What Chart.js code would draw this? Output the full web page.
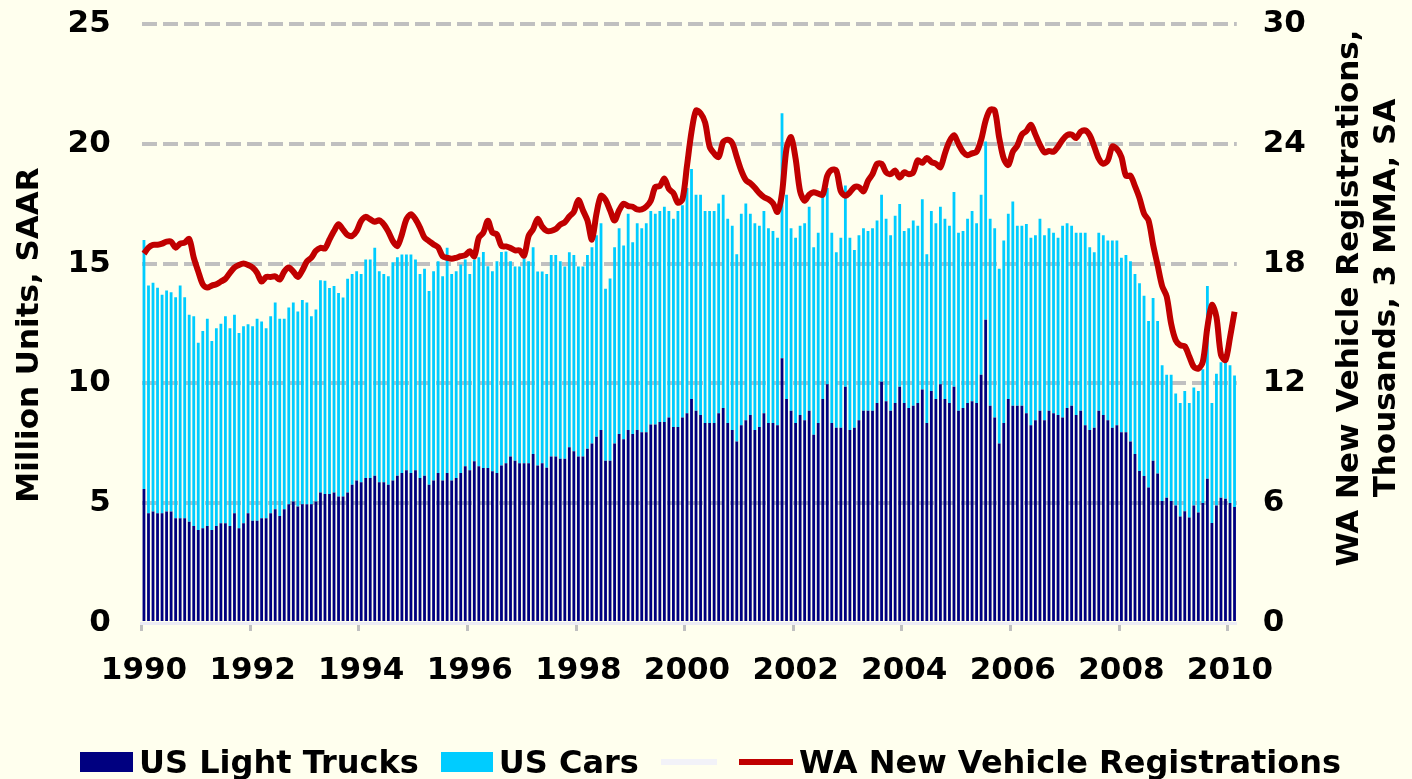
<!DOCTYPE html>
<html>
<head>
<meta charset="utf-8">
<script src="https://cdn.jsdelivr.net/npm/chart.js@4.4.0/dist/chart.umd.min.js"></script>
<style>
  html, body { margin: 0; padding: 0; background: #FFFFEE; }
  #wrap { position: relative; width: 1412px; height: 779px; }
  #legend {
    position: absolute; left: 80px; top: 742px; height: 40px;
    display: flex; align-items: center;
    font: bold 32px "DejaVu Sans", sans-serif; color: #000; white-space: nowrap;
  }
  #legend .item { display: flex; align-items: center; margin-right: 22px; }
  #legend .sw { display: inline-block; margin-right: 6px; }
</style>
</head>
<body>
<div id="wrap">
  <canvas id="chart"></canvas>
  <div id="legend"></div>
</div>
<script>
// monthly data, Jan 1990 .. Feb 2010 (one row per year)
const startYear = 1990;

const trucks = [
  5.59,4.58,4.65,4.58,4.58,4.65,4.65,4.37,4.37,4.37,4.23,4.05,
  3.88,3.95,4.05,3.88,4.05,4.16,4.16,4.05,4.58,3.95,4.16,4.58,
  4.27,4.27,4.37,4.37,4.58,4.75,4.47,4.75,4.96,5.07,4.86,4.96,
  4.96,4.96,5.07,5.45,5.38,5.38,5.45,5.28,5.28,5.45,5.77,5.95,
  5.87,6.05,6.05,6.15,5.87,5.87,5.77,5.95,6.15,6.26,6.37,6.26,
  6.37,6.05,6.15,5.77,5.95,6.26,5.95,6.26,5.95,6.05,6.26,6.54,
  6.37,6.75,6.54,6.47,6.47,6.33,6.26,6.57,6.67,6.95,6.77,6.67,
  6.67,6.67,7.05,6.57,6.67,6.48,6.95,6.95,6.85,6.85,7.34,7.17,
  6.95,6.95,7.27,7.49,7.77,8.06,6.77,6.77,7.49,7.89,7.67,8.06,
  7.89,8.06,7.96,7.96,8.28,8.28,8.39,8.39,8.58,8.18,8.18,8.58,
  8.75,9.35,8.86,8.68,8.35,8.35,8.35,8.75,8.97,8.35,8.06,7.57,
  8.25,8.46,8.68,8.06,8.18,8.75,8.35,8.35,8.25,11.05,9.35,8.86,
  8.35,8.68,8.46,8.86,7.86,8.35,9.35,9.96,8.35,8.15,8.15,9.86,
  8.06,8.15,8.46,8.86,8.86,8.86,9.18,10.07,9.25,8.86,9.18,9.86,
  9.18,8.97,9.07,9.18,9.75,8.35,9.68,9.35,9.96,9.35,9.18,9.86,
  8.86,8.97,9.18,9.25,9.18,10.36,12.66,9.07,8.58,7.49,8.35,9.35,
  9.07,9.07,9.07,8.75,8.25,8.46,8.86,8.46,8.86,8.75,8.68,8.58,
  8.97,9.07,8.68,8.86,8.25,8.06,8.15,8.86,8.68,8.46,8.15,8.25,
  7.96,7.96,7.57,7.05,6.34,6.14,5.66,6.77,6.24,5.09,5.23,5.09,
  4.9,4.44,4.66,4.4,4.9,4.61,5.01,6.02,4.17,4.9,5.23,5.19,
  5.01,4.84
];

const cars = [
  10.39,9.51,9.55,9.41,9.12,9.23,9.15,9.23,9.72,9.23,8.64,8.75,
  7.82,8.24,8.65,7.89,8.25,8.33,8.64,8.25,8.29,8.15,8.23,7.89,
  8.12,8.43,8.21,7.93,8.22,8.63,8.23,7.95,8.21,8.31,8.14,8.52,
  8.42,7.84,8.01,8.85,8.9,8.6,8.62,8.49,8.3,8.92,8.8,8.73,
  8.7,9.12,9.12,9.51,8.81,8.7,8.7,9.11,9.12,9.12,9.01,9.12,
  8.8,8.52,8.63,8.09,8.73,8.84,8.52,9.4,8.62,8.63,8.7,8.63,
  8.2,8.42,8.73,9.01,8.42,8.35,8.84,8.91,8.83,8.15,8.11,8.21,
  8.55,8.43,8.63,8.1,8.0,8.09,8.41,8.41,8.25,8.03,8.13,8.19,
  7.93,7.93,8.09,8.19,8.41,8.62,7.18,7.61,8.19,8.59,8.09,9.02,
  8.0,8.62,8.52,8.72,8.92,8.8,8.81,8.98,8.62,8.69,9.02,8.86,
  9.41,9.6,9.01,9.19,8.85,8.85,8.85,8.76,8.9,8.52,8.52,7.82,
  8.83,9.05,8.4,8.62,8.4,8.45,8.13,8.01,7.83,10.23,8.52,7.62,
  7.73,7.9,8.22,8.51,7.82,7.94,8.52,8.2,7.94,7.32,7.93,8.4,
  8.02,7.42,7.72,7.62,7.5,7.62,7.62,7.8,7.62,7.32,7.82,7.63,
  7.18,7.51,7.73,7.4,7.94,7.04,7.52,7.33,7.41,7.52,7.4,8.13,
  7.43,7.39,7.69,7.95,7.5,7.51,7.44,7.8,7.9,7.29,7.61,7.73,
  8.52,7.51,7.51,7.9,7.83,7.72,8.01,7.72,7.62,7.54,7.4,8.0,
  7.71,7.51,7.61,7.43,8.04,7.62,7.32,7.43,7.5,7.5,7.81,7.71,
  7.28,7.4,7.53,7.52,7.84,7.52,6.94,6.79,6.36,5.67,5.13,5.27,
  4.68,4.74,5.02,4.78,4.93,5.07,5.58,8.05,5.01,5.5,5.65,5.69,
  5.75,5.49
];

const waRegistrations = [
  18.5,18.8,18.94,18.94,19.0,19.1,19.1,18.8,19.0,19.05,19.23,18.3,
  17.6,16.96,16.8,16.9,16.96,17.1,17.24,17.54,17.8,17.93,18.0,17.93,
  17.8,17.54,17.1,17.33,17.33,17.36,17.2,17.6,17.8,17.6,17.33,17.66,
  18.1,18.3,18.64,18.79,18.76,19.21,19.63,19.97,19.7,19.43,19.38,19.63,
  20.14,20.34,20.22,20.1,20.17,19.97,19.6,19.13,18.88,19.46,20.22,20.47,
  20.22,19.8,19.3,19.13,18.96,18.82,18.37,18.29,18.24,18.29,18.37,18.42,
  18.62,18.37,19.3,19.55,20.14,19.55,19.46,18.88,18.86,18.78,18.66,18.66,
  18.4,19.38,19.73,20.24,19.85,19.64,19.64,19.73,19.95,20.07,20.36,20.59,
  21.19,20.67,20.16,19.2,20.5,21.4,21.19,20.67,20.16,20.67,21.0,20.88,
  20.85,20.71,20.71,20.85,21.15,21.84,21.88,22.26,21.74,21.53,21.05,21.22,
  22.9,24.6,25.67,25.53,25.07,23.86,23.52,23.34,24.09,24.2,24.03,23.34,
  22.66,22.19,22.02,21.8,21.53,21.33,21.22,21.02,20.59,21.53,23.78,24.33,
  23.26,21.62,21.15,21.45,21.57,21.5,21.45,22.4,22.7,22.66,21.62,21.4,
  21.57,21.83,21.83,21.62,22.14,22.48,23.0,23.0,22.57,22.48,22.66,22.31,
  22.57,22.48,22.57,23.17,23.05,23.29,23.09,23.0,22.83,23.52,24.12,24.43,
  23.99,23.6,23.43,23.52,23.6,24.2,25.16,25.7,25.67,24.29,23.26,22.94,
  23.6,23.91,24.46,24.64,24.95,24.46,23.95,23.57,23.64,23.6,23.86,24.2,
  24.43,24.46,24.29,24.6,24.67,24.43,23.86,23.26,23.0,23.17,23.86,23.74,
  23.34,22.4,22.4,21.88,21.28,20.5,20.16,18.95,17.92,16.88,16.36,14.98,
  14.16,13.91,13.86,13.35,12.83,12.74,13.09,14.81,15.93,15.33,13.43,13.17,
  14.3,15.59
];

const yearTicks = ['1990','1992','1994','1996','1998','2000','2002','2004','2006','2008','2010'];
const leftTitle = 'Million Units, SAAR';
const rightTitle = ['WA New Vehicle Registrations,', 'Thousands, 3 MMA, SA'];

const TRUCK_COLOR = '#000080';
const CAR_COLOR = '#00CCFF';
const WA_COLOR = '#C00000';
const GRID_COLOR = '#C0C0C0';
const NONE = 'rgba(0,0,0,0)';

// month categories
const months = [];
for (let i = 0; i < trucks.length; i++) {
  months.push((startYear + Math.floor(i / 12)) + '-' + String(i % 12 + 1).padStart(2, '0'));
}
function yearLabel(index) {
  const m = months[index];
  if (!m || m.slice(5) !== '01') return '';
  const y = m.slice(0, 4);
  return yearTicks.indexOf(y) >= 0 ? y : '';
}

Chart.defaults.font.family = '"DejaVu Sans", sans-serif';
Chart.defaults.font.size = 31;
Chart.defaults.font.weight = 'bold';
Chart.defaults.color = '#000';

// axis titles drawn so that both read bottom-to-top like the original
const axisTitles = {
  id: 'axisTitles',
  afterDraw(chart) {
    const { ctx, chartArea } = chart;
    ctx.save();
    ctx.font = 'bold 31px "DejaVu Sans", sans-serif';
    ctx.fillStyle = '#000';
    ctx.textAlign = 'center';
    ctx.textBaseline = 'middle';

    ctx.save();
    ctx.translate(30, chartArea.top + 311);
    ctx.rotate(-Math.PI / 2);
    ctx.fillText(leftTitle, 0, 0);
    ctx.restore();

    ctx.translate(chartArea.right + 113, chartArea.top + 274);
    ctx.rotate(-Math.PI / 2);
    rightTitle.forEach(function (t, i) { ctx.fillText(t, 0, i * 37); });
    ctx.restore();
  }
};

new Chart(document.getElementById('chart'), {
  data: {
    labels: months,
    datasets: [
      {
        type: 'line',
        label: 'WA New Vehicle Registrations',
        data: waRegistrations,
        yAxisID: 'y1',
        borderColor: WA_COLOR,
        backgroundColor: WA_COLOR,
        borderWidth: 6,
        pointRadius: 0,
        tension: 0.3,
        order: 0
      },
      {
        type: 'bar',
        label: 'US Light Trucks',
        data: trucks,
        backgroundColor: TRUCK_COLOR,
        barPercentage: 0.62,
        categoryPercentage: 1,
        order: 1
      },
      {
        type: 'bar',
        label: 'US Cars',
        data: cars,
        backgroundColor: CAR_COLOR,
        barPercentage: 0.62,
        categoryPercentage: 1,
        order: 1
      }
    ]
  },
  options: {
    animation: false,
    responsive: true,
    maintainAspectRatio: false,
    layout: { padding: { left: 0, top: 24, right: 0, bottom: 0 } },
    scales: {
      x: {
        stacked: true,
        grid: {
          offset: true,
          drawOnChartArea: false,
          drawTicks: true,
          tickLength: 8,
          tickWidth: 3,
          tickColor: function (c) { return yearLabel(c.index) ? GRID_COLOR : NONE; }
        },
        border: { display: true, color: '#ECECF4', width: 3 },
        ticks: {
          autoSkip: false,
          maxRotation: 0,
          minRotation: 0,
          padding: 21,
          callback: function (value, index) { return yearLabel(index); }
        },
        afterFit: function (scale) { scale.height = 156; }
      },
      y: {
        stacked: true,
        min: 0,
        max: 25,
        grid: {
          drawTicks: true,
          tickLength: 31,
          tickColor: NONE,
          lineWidth: 4,
          color: function (c) { return c.tick.value === 0 ? NONE : GRID_COLOR; }
        },
        border: { display: false, dash: [15, 6] },
        ticks: { stepSize: 5, padding: 0 },
        afterFit: function (scale) { scale.width = 141.7; }
      },
      y1: {
        position: 'right',
        min: 0,
        max: 30,
        grid: { drawOnChartArea: false, drawTicks: true, tickLength: 26, tickColor: NONE },
        border: { display: false },
        ticks: { stepSize: 6, padding: 0 },
        afterFit: function (scale) { scale.width = 175.2; }
      }
    },
    plugins: {
      legend: { display: false },
      tooltip: { enabled: false }
    }
  },
  plugins: [axisTitles]
});

// legend row under the chart
const legendItems = [
  { kind: 'box', color: TRUCK_COLOR, text: 'US Light Trucks', w: 53 },
  { kind: 'box', color: CAR_COLOR, text: 'US Cars', w: 52 },
  { kind: 'line', color: '#F2F2F8', text: '', w: 56 },
  { kind: 'line', color: WA_COLOR, text: 'WA New Vehicle Registrations', w: 54 }
];
const legendEl = document.getElementById('legend');
legendItems.forEach(function (it) {
  const item = document.createElement('div');
  item.className = 'item';
  const sw = document.createElement('span');
  sw.className = 'sw';
  sw.style.width = it.w + 'px';
  sw.style.height = it.kind === 'box' ? '20px' : '6px';
  sw.style.background = it.color;
  if (!it.text) sw.style.marginRight = '0';
  item.appendChild(sw);
  if (it.text) {
    const lb = document.createElement('span');
    lb.textContent = it.text;
    item.appendChild(lb);
  }
  legendEl.appendChild(item);
});
</script>
</body>
</html>
